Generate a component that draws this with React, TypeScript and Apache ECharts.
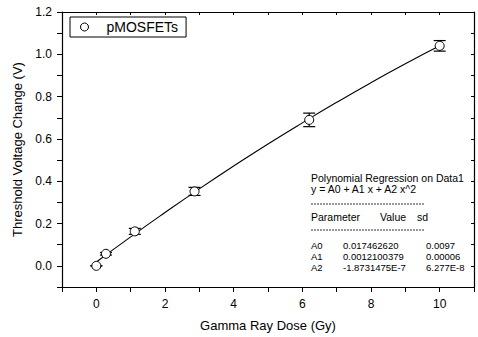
import React, { useEffect, useRef } from "react";
import * as echarts from "echarts";

const doseGy = [0, 0.28, 1.12, 2.86, 6.2, 10];
const thresholdShift = [0.0, 0.057, 0.163, 0.352, 0.69, 1.04];
const errorHalf = [0, 0.006, 0.014, 0.019, 0.032, 0.025];

const fitDose = [0, 1, 2, 3, 4, 5, 6, 7, 8, 9, 10];
const fitShift = [0.018, 0.137, 0.252, 0.364, 0.472, 0.576, 0.676, 0.773, 0.866, 0.955, 1.04];

const fitTitle = "Polynomial Regression on Data1";
const fitEquation = "y = A0 + A1 x + A2 x^2";
const paramNames = ["A0", "A1", "A2"];
const paramValues = ["0.017462620", "0.0012100379", "-1.8731475E-7"];
const paramSd = ["0.0097", "0.00006", "6.277E-8"];

const FONT = "Liberation Sans, Arial, sans-serif";

export default function App() {
  const ref = useRef<HTMLDivElement>(null);
  useEffect(() => {
    if (!ref.current) return;
    const chart = echarts.init(ref.current, null, { renderer: "svg" });
    const points = doseGy.map((x, i) => [x, thresholdShift[i]]);
    const errs = doseGy.map((x, i) => [x, thresholdShift[i] - errorHalf[i], thresholdShift[i] + errorHalf[i]]);
    const fit = fitDose.map((x, i) => [x, fitShift[i]]);

    const tx = 311;
    const f = `10.5px ${FONT}`;
    const fr = `9.5px ${FONT}`;
    const graphics: any[] = [
      { type: "text", x: tx, y: 172.5, style: { text: fitTitle, font: f, fill: "#000" } },
      { type: "text", x: tx, y: 183.5, style: { text: fitEquation, font: f, fill: "#000" } },
      { type: "line", shape: { x1: tx, y1: 204, x2: 425, y2: 204 }, style: { stroke: "#000", lineWidth: 0.8, lineDash: [2, 1] } },
      { type: "text", x: tx, y: 211.5, style: { text: "Parameter", font: f, fill: "#000" } },
      { type: "text", x: 380, y: 211.5, style: { text: "Value", font: f, fill: "#000" } },
      { type: "text", x: 417, y: 211.5, style: { text: "sd", font: f, fill: "#000" } },
      { type: "line", shape: { x1: tx, y1: 230, x2: 425, y2: 230 }, style: { stroke: "#000", lineWidth: 0.8, lineDash: [2, 1] } },
    ];
    paramNames.forEach((n, i) => {
      const y = 240 + i * 11;
      graphics.push({ type: "text", x: tx, y, style: { text: n, font: fr, fill: "#000" } });
      graphics.push({ type: "text", x: 343, y, style: { text: paramValues[i], font: fr, fill: "#000" } });
      graphics.push({ type: "text", x: 426, y, style: { text: paramSd[i], font: fr, fill: "#000" } });
    });

    chart.setOption({
      animation: false,
      backgroundColor: "#fff",
      textStyle: { fontFamily: FONT, color: "#000" },
      grid: { left: 62, top: 12, right: 4, bottom: 49, containLabel: false },
      legend: {
        left: 70,
        top: 17,
        data: [{ name: "pMOSFETs", icon: "circle" }],
        itemWidth: 10,
        itemHeight: 8,
        padding: [3, 8, 3, 10],
        borderColor: "#000",
        borderWidth: 1,
        borderRadius: 0,
        itemStyle: { color: "#fff", borderColor: "#000", borderWidth: 1 },
        textStyle: { fontSize: 14, color: "#000", fontFamily: FONT, padding: [0, 0, 0, 12] },
      },
      xAxis: [
        {
          type: "value",
          min: -1,
          max: 11,
          interval: 1,
          name: "Gamma Ray Dose (Gy)",
          nameLocation: "middle",
          nameGap: 32,
          nameTextStyle: { fontSize: 13, color: "#000", fontFamily: FONT },
          axisLine: { onZero: false, lineStyle: { color: "#000", width: 1.2 } },
          axisTick: { inside: false, length: 5, lineStyle: { color: "#000" } },
          axisLabel: {
            margin: 11,
            fontSize: 12,
            color: "#000",
            fontFamily: FONT,
            formatter: (v: number) => (Math.round(v) % 2 === 0 && Math.round(v) >= 0 ? String(Math.round(v)) : ""),
          },
          splitLine: { show: false },
        },
        {
          type: "value",
          position: "top",
          min: -1,
          max: 11,
          interval: 1,
          axisLine: { onZero: false, lineStyle: { color: "#000", width: 1.2 } },
          axisTick: { inside: true, length: 3, lineStyle: { color: "#000" } },
          axisLabel: { show: false },
          splitLine: { show: false },
        },
      ],
      yAxis: [
        {
          type: "value",
          min: -0.1,
          max: 1.2,
          interval: 0.1,
          name: "Threshold Voltage Change (V)",
          nameLocation: "middle",
          nameGap: 38,
          nameTextStyle: { fontSize: 13, color: "#000", fontFamily: FONT },
          axisLine: { onZero: false, lineStyle: { color: "#000", width: 1.2 } },
          axisTick: { inside: false, length: 5, lineStyle: { color: "#000" } },
          axisLabel: {
            margin: 10,
            fontSize: 12,
            color: "#000",
            fontFamily: FONT,
            formatter: (v: number) => {
              const k = Math.round(v * 10);
              return k % 2 === 0 ? (k / 10).toFixed(1) : "";
            },
          },
          splitLine: { show: false },
        },
        {
          type: "value",
          position: "right",
          min: -0.1,
          max: 1.2,
          interval: 0.1,
          axisLine: { onZero: false, lineStyle: { color: "#000", width: 1.2 } },
          axisTick: { inside: true, length: 3, lineStyle: { color: "#000" } },
          axisLabel: { show: false },
          splitLine: { show: false },
        },
      ],
      series: [
        {
          name: "Fit",
          type: "line",
          data: fit,
          smooth: true,
          symbol: "none",
          lineStyle: { color: "#000", width: 1.1 },
          z: 2,
        },
        {
          name: "Error",
          type: "custom",
          data: errs,
          z: 3,
          renderItem: (params: any, api: any) => {
            const x = api.value(0);
            const lo = api.coord([x, api.value(1)]);
            const hi = api.coord([x, api.value(2)]);
            const hw = 6;
            const style = { stroke: "#000", lineWidth: 1.2 };
            return {
              type: "group",
              children: [
                { type: "line", shape: { x1: lo[0], y1: lo[1], x2: hi[0], y2: hi[1] }, style },
                { type: "line", shape: { x1: lo[0] - hw, y1: lo[1], x2: lo[0] + hw, y2: lo[1] }, style },
                { type: "line", shape: { x1: hi[0] - hw, y1: hi[1], x2: hi[0] + hw, y2: hi[1] }, style },
              ],
            };
          },
        },
        {
          name: "pMOSFETs",
          type: "scatter",
          data: points,
          symbol: "circle",
          symbolSize: 9,
          itemStyle: { color: "#fff", borderColor: "#000", borderWidth: 1, opacity: 1 },
          z: 4,
        },
      ],
      graphic: graphics,
    });
    return () => chart.dispose();
  }, []);
  return <div ref={ref} style={{ width: 478, height: 337, position: "absolute", left: 0, top: 0 }} />;
}
